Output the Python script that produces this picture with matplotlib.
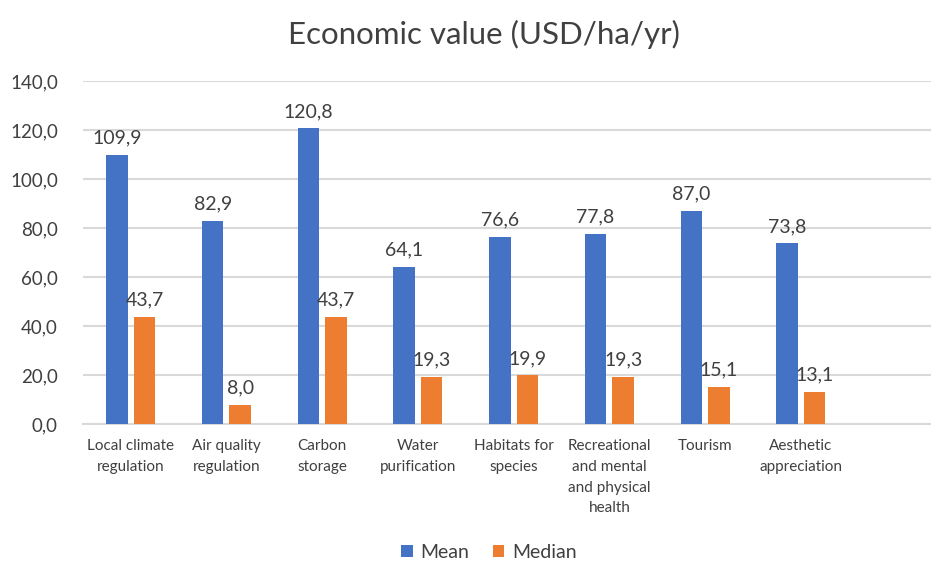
import numpy as np
import matplotlib.pyplot as plt

plt.rcParams['font.family'] = ['Lato', 'DejaVu Sans']

# data
categories = ["Local climate\nregulation", "Air quality\nregulation", "Carbon\nstorage",
              "Water\npurification", "Habitats for\nspecies",
              "Recreational\nand mental\nand physical\nhealth", "Tourism",
              "Aesthetic\nappreciation"]
mean_vals = [109.9, 82.9, 120.8, 64.1, 76.6, 77.8, 87.0, 73.8]
median_vals = [43.7, 8.0, 43.7, 19.3, 19.9, 19.3, 15.1, 13.1]
yticks = [0, 20, 40, 60, 80, 100, 120, 140]

blue = "#4472C4"
orange = "#ED7D31"
grid = "#D9D9D9"
txt = "#404040"


def fmt(v):
    return f"{v:.1f}".replace(".", ",")


fig = plt.figure(figsize=(9.31, 5.64), dpi=100)
ax = fig.add_axes([0.089, 0.248, 0.911, 0.608])

x = np.arange(len(categories))
w = 0.225
off = 0.144
b1 = ax.bar(x - off, mean_vals, w, color=blue, label="Mean", zorder=3)
b2 = ax.bar(x + off, median_vals, w, color=orange, label="Median", zorder=3)

for bars, vals in ((b1, mean_vals), (b2, median_vals)):
    for r, v in zip(bars, vals):
        ax.annotate(fmt(v), (r.get_x() + r.get_width() / 2, v), xytext=(0, 6),
                    textcoords="offset points", ha="center", va="bottom",
                    fontsize=14, color=txt)

ax.set_ylim(0, 140)
ax.set_xlim(-0.5, 8.36)
ax.set_yticks(yticks)
ax.set_yticklabels([fmt(t) for t in yticks], fontsize=13.5, color=txt)
ax.set_xticks(x)
ax.set_xticklabels(categories, fontsize=11, color=txt, linespacing=1.6, va="top")
ax.tick_params(length=0)
ax.tick_params(axis="x", pad=11)
ax.tick_params(axis="y", pad=18)
ax.grid(axis="y", color=grid, linewidth=1.5, zorder=0)
for s in ("top", "right", "left"):
    ax.spines[s].set_visible(False)
ax.spines["bottom"].set_color(grid)
ax.spines["bottom"].set_linewidth(1.5)

fig.suptitle("Economic value (USD/ha/yr)", fontsize=22.5, color=txt, x=0.52, y=0.965)

fig.legend(handles=[b1, b2], loc="lower center", bbox_to_anchor=(0.525, -0.025), ncol=2,
           frameon=False, fontsize=14, labelcolor=txt, handlelength=0.6,
           handleheight=0.6, handletextpad=0.4, columnspacing=1.2)

fig.savefig("out.png", dpi=100)
